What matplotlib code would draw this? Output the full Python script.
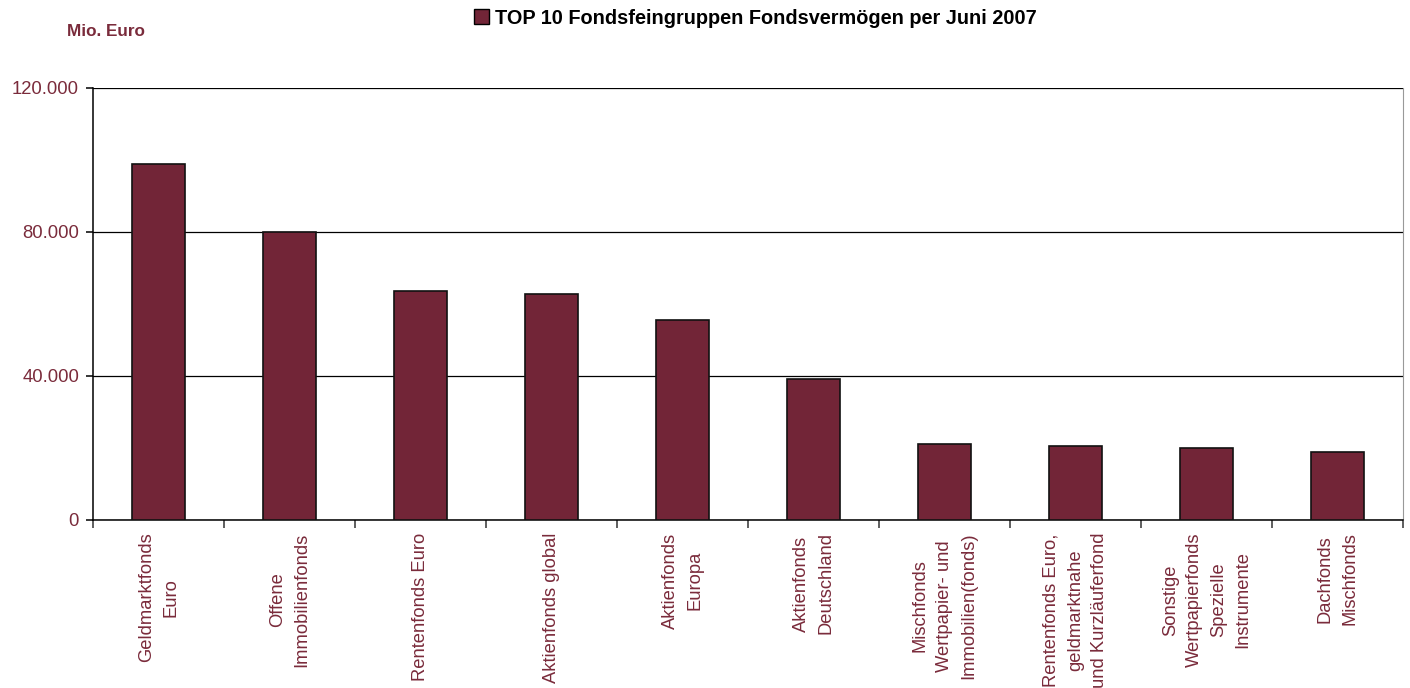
import numpy as np
import matplotlib
matplotlib.use('Agg')
import matplotlib.pyplot as plt
from matplotlib.patches import Patch
from matplotlib.ticker import FuncFormatter

plt.rcParams['font.family'] = ['Liberation Sans', 'DejaVu Sans']

kategorien = ['Geldmarktfonds\nEuro',
              'Offene\nImmobilienfonds',
              'Rentenfonds Euro',
              'Aktienfonds global',
              'Aktienfonds\nEuropa',
              'Aktienfonds\nDeutschland',
              'Mischfonds\nWertpapier- und\nImmobilien(fonds)',
              'Rentenfonds Euro,\ngeldmarktnahe\nund Kurzläuferfond',
              'Sonstige\nWertpapierfonds\nSpezielle\nInstrumente',
              'Dachfonds\nMischfonds']
vermoegen = [98900, 80000, 63600, 62800, 55600, 39200, 21100, 20600, 20100, 18900]
y_ticks = [0, 40000, 80000, 120000]

bar_farbe = '#722537'
text_farbe = '#7a2b3b'

fig = plt.figure(figsize=(14.1, 6.88), dpi=100)
ax = fig.add_axes([93/1410, 1-520/688, (1403-93)/1410, (520-88)/688])

x = np.arange(len(kategorien))
ax.bar(x, vermoegen, width=0.4, color=bar_farbe, edgecolor='#111111', linewidth=1.2, zorder=3)

ax.set_xlim(-0.5, len(kategorien)-0.5)
ax.set_ylim(0, 120000)
ax.set_yticks(y_ticks)
ax.yaxis.set_major_formatter(FuncFormatter(lambda v, p: f'{int(v):,}'.replace(',', '.')))
ax.grid(axis='y', color='black', linewidth=0.9, zorder=0)

ax.set_xticks(x)
ax.set_xticklabels(kategorien, rotation=90, ha='center', va='top', multialignment='center',
                   fontsize=13.2, color=text_farbe, linespacing=1.55)
ax.tick_params(axis='x', which='major', length=0, pad=9)
ax.set_xticks(np.arange(-0.5, len(kategorien)), minor=True)
ax.tick_params(axis='x', which='minor', length=6, width=1.1, color='#333333', direction='out')
ax.tick_params(axis='y', length=5, width=1.1, labelsize=13.3, labelcolor=text_farbe, pad=5)

ax.spines['top'].set_visible(False)
ax.spines['right'].set_color('#999999')
ax.spines['left'].set_linewidth(1.1)
ax.spines['bottom'].set_linewidth(1.1)

fig.text(67/1410, 1-31/688, 'Mio. Euro', fontsize=12.3, fontweight='bold', color=text_farbe,
         ha='left', va='center')

handle = Patch(facecolor=bar_farbe, edgecolor='black', linewidth=1)
fig.legend([handle], ['TOP 10 Fondsfeingruppen Fondsvermögen per Juni 2007'],
           loc='center left', bbox_to_anchor=(474/1410, 1-18/688), frameon=False,
           prop={'weight': 'bold', 'size': 14.3}, handlelength=0.75, handleheight=0.75,
           handletextpad=0.3, borderpad=0, borderaxespad=0)

fig.savefig('out.png', dpi=100)
